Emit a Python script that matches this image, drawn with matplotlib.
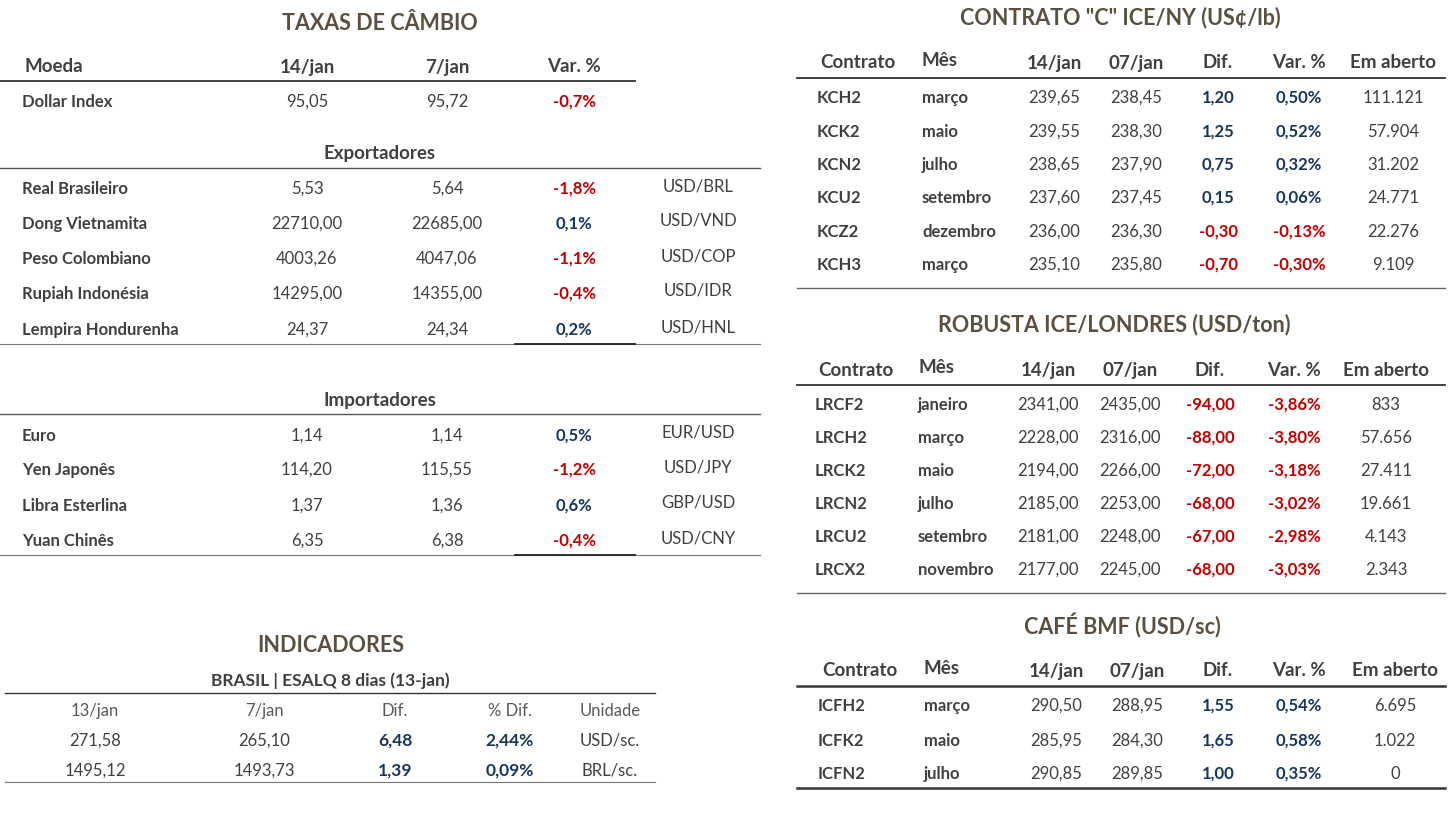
import matplotlib
matplotlib.use("Agg")
import matplotlib.pyplot as plt

W, H = 1449, 814
fig = plt.figure(figsize=(W/100, H/100), dpi=100)
fig.patch.set_facecolor("white")
FONT = "Lato"
RED = "#c00000"; BLUE = "#17365d"; GRAY = "#404040"; TITLE = "#5b5040"

def T(x, y, s, size=12, bold=False, color=GRAY, ha="center"):
    fig.text(x/W, 1-(y+1)/H, s, fontsize=size, fontweight="bold" if bold else "normal",
             color=color, ha=ha, va="center", family=FONT)

def L(x0, x1, y, color="#555555", lw=1.0):
    fig.add_artist(plt.Line2D([x0/W, x1/W], [1-y/H, 1-y/H], color=color, lw=lw))

def vcol(v):
    return RED if v.startswith("-") else BLUE

# ---------- Taxas de câmbio ----------
fx_head = ["Moeda", "14/jan", "7/jan", "Var. %"]
dollar = ["Dollar Index", "95,05", "95,72", "-0,7%"]
exp_names = ["Real Brasileiro", "Dong Vietnamita", "Peso Colombiano", "Rupiah Indonésia", "Lempira Hondurenha"]
exp_cur = ["5,53", "22710,00", "4003,26", "14295,00", "24,37"]
exp_prev = ["5,64", "22685,00", "4047,06", "14355,00", "24,34"]
exp_var = ["-1,8%", "0,1%", "-1,1%", "-0,4%", "0,2%"]
exp_pair = ["USD/BRL", "USD/VND", "USD/COP", "USD/IDR", "USD/HNL"]
imp_names = ["Euro", "Yen Japonês", "Libra Esterlina", "Yuan Chinês"]
imp_cur = ["1,14", "114,20", "1,37", "6,35"]
imp_prev = ["1,14", "115,55", "1,36", "6,38"]
imp_var = ["0,5%", "-1,2%", "0,6%", "-0,4%"]
imp_pair = ["EUR/USD", "USD/JPY", "GBP/USD", "USD/CNY"]

T(380, 22, "TAXAS DE CÂMBIO", 15.5, True, TITLE)
T(24, 66, fx_head[0], 13.5, True, GRAY, "left")
for x, s in zip([307, 447, 574], fx_head[1:]):
    T(x, 66, s, 13.5, True)
L(0, 635, 81, "#333333", 1.3)
T(22, 101, dollar[0], 12, True, GRAY, "left")
T(307, 101, dollar[1]); T(447, 101, dollar[2]); T(574, 101, dollar[3], 12, True, vcol(dollar[3]))

def fx_block(title, ty, ys, names, cur, prev, var, pair, bot):
    T(380, ty, title, 13.5, True)
    L(0, 760, ty+15, "#555555", 1.0)
    for y, n, c, p, v, pr in zip(ys, names, cur, prev, var, pair):
        T(22, y, n, 12, True, GRAY, "left")
        T(307, y, c); T(447, y, p)
        T(574, y, v, 12, True, vcol(v))
        T(698, y - 3, pr)
    L(0, 760, bot, "#777777", 0.8)
    L(515, 635, bot, "#222222", 1.3)

fx_block("Exportadores", 153, [188, 223, 258, 293, 329], exp_names, exp_cur, exp_prev, exp_var, exp_pair, 344)
fx_block("Importadores", 399, [435, 469, 505, 540], imp_names, imp_cur, imp_prev, imp_var, imp_pair, 555)

# ---------- Indicadores ----------
ind_head = ["13/jan", "7/jan", "Dif.", "% Dif.", "Unidade"]
ind_rows = [["271,58", "265,10", "6,48", "2,44%", "USD/sc."],
            ["1495,12", "1493,73", "1,39", "0,09%", "BRL/sc."]]
T(331, 645, "INDICADORES", 15.5, True, TITLE)
T(330, 680, "BRASIL | ESALQ 8 dias (13-jan)", 12.5, True)
L(5, 655, 693, "#333333", 1.0)
ixs = [95, 264, 395, 510, 610]
for x, s in zip(ixs, ind_head):
    T(x, 710, s, 12, False, "#595959")
for y, row in zip([740, 770], ind_rows):
    for i, (x, s) in enumerate(zip(ixs, row)):
        if i in (2, 3):
            T(x, y, s, 12.5, True, BLUE)
        else:
            T(x, y, s)
L(5, 655, 782, "#777777", 0.8)

# ---------- Futures tables ----------
fut_head = ["Contrato", "Mês", "14/jan", "07/jan", "Dif.", "Var. %", "Em aberto"]
kc_codes = ["KCH2", "KCK2", "KCN2", "KCU2", "KCZ2", "KCH3"]
kc_month = ["março", "maio", "julho", "setembro", "dezembro", "março"]
kc_cur = ["239,65", "239,55", "238,65", "237,60", "236,00", "235,10"]
kc_prev = ["238,45", "238,30", "237,90", "237,45", "236,30", "235,80"]
kc_dif = ["1,20", "1,25", "0,75", "0,15", "-0,30", "-0,70"]
kc_var = ["0,50%", "0,52%", "0,32%", "0,06%", "-0,13%", "-0,30%"]
kc_oi = ["111.121", "57.904", "31.202", "24.771", "22.276", "9.109"]

rc_codes = ["LRCF2", "LRCH2", "LRCK2", "LRCN2", "LRCU2", "LRCX2"]
rc_month = ["janeiro", "março", "maio", "julho", "setembro", "novembro"]
rc_cur = ["2341,00", "2228,00", "2194,00", "2185,00", "2181,00", "2177,00"]
rc_prev = ["2435,00", "2316,00", "2266,00", "2253,00", "2248,00", "2245,00"]
rc_dif = ["-94,00", "-88,00", "-72,00", "-68,00", "-67,00", "-68,00"]
rc_var = ["-3,86%", "-3,80%", "-3,18%", "-3,02%", "-2,98%", "-3,03%"]
rc_oi = ["833", "57.656", "27.411", "19.661", "4.143", "2.343"]

bmf_codes = ["ICFH2", "ICFK2", "ICFN2"]
bmf_month = ["março", "maio", "julho"]
bmf_cur = ["290,50", "285,95", "290,85"]
bmf_prev = ["288,95", "284,30", "289,85"]
bmf_dif = ["1,55", "1,65", "1,00"]
bmf_var = ["0,54%", "0,58%", "0,35%"]
bmf_oi = ["6.695", "1.022", "0"]

def fut(title, tx, ty, hy, hx, cx, mx, vx, ys, codes, months, cur, prev, dif, var, oi, bot, dark):
    T(tx, ty, title, 15.5, True, TITLE)
    T(hx[0], hy, fut_head[0], 13.5, True)
    T(mx, hy - 2, fut_head[1], 13.5, True, GRAY, "left")
    for x, s in zip(vx, fut_head[2:]):
        T(x, hy, s, 13.5, True)
    L(797, 1445, hy + 16, "#333333", 1.3 if not dark else 1.8)
    for y, c, m, a, b, d, v, o in zip(ys, codes, months, cur, prev, dif, var, oi):
        T(cx, y, c, 12, True, GRAY, "left")
        T(mx, y, m, 12, True, GRAY, "left")
        T(vx[0], y, a); T(vx[1], y, b)
        T(vx[2], y, d, 12, True, vcol(d))
        T(vx[3], y, v, 12, True, vcol(v))
        T(vx[4], y, o)
    L(797, 1445, bot, "#333333" if dark else "#666666", 1.8 if dark else 1.0)

fut('CONTRATO "C" ICE/NY (US¢/lb)', 1120, 17, 62, [858], 817, 922,
    [1054, 1136, 1218, 1299, 1393], [97, 131, 164, 197, 231, 264],
    kc_codes, kc_month, kc_cur, kc_prev, kc_dif, kc_var, kc_oi, 288, False)
fut("ROBUSTA ICE/LONDRES (USD/ton)", 1114, 324, 369, [856], 815, 918,
    [1048, 1130, 1210, 1294, 1386], [404, 437, 470, 503, 536, 569],
    rc_codes, rc_month, rc_cur, rc_prev, rc_dif, rc_var, rc_oi, 593, False)
fut("CAFÉ BMF (USD/sc)", 1122, 625, 670, [860], 818, 924,
    [1056, 1137, 1218, 1299, 1395], [705, 740, 773],
    bmf_codes, bmf_month, bmf_cur, bmf_prev, bmf_dif, bmf_var, bmf_oi, 788, True)

fig.savefig("out.png", dpi=100, facecolor="white")
